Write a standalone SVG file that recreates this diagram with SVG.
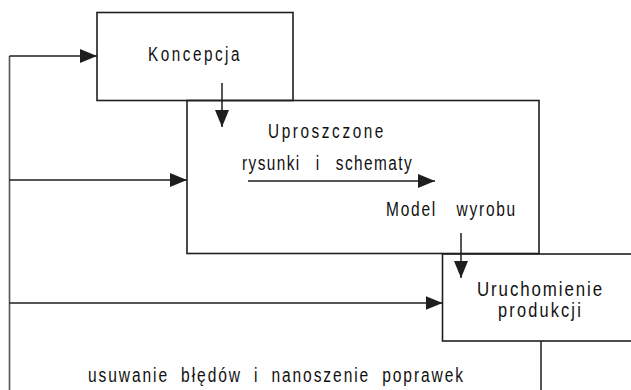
<svg xmlns="http://www.w3.org/2000/svg" width="631" height="390" viewBox="0 0 631 390">
  <style>
    .box { fill: none; stroke: #1e1e1e; stroke-width: 1.6; }
    .ln { fill: none; stroke: #1e1e1e; stroke-width: 1.5; }
    .gl { fill: none; stroke: #555; stroke-width: 1.6; }
    text { font-family: "Liberation Sans", Arial, sans-serif; font-size: 19.5px; fill: #111; }
  </style>
  <defs>
    <marker id="ah" markerUnits="userSpaceOnUse" markerWidth="18" markerHeight="16" refX="17" refY="7" orient="auto" viewBox="0 0 18 14">
      <path d="M0,0 L17,7 L0,14 z" fill="#1e1e1e"/>
    </marker>
  </defs>
  <rect width="631" height="390" fill="#fff"/>

  <g id="koncepcja">
    <rect class="box" x="97" y="12.5" width="196" height="88"/>
    <text x="148" y="60.5" textLength="94" lengthAdjust="spacingAndGlyphs" style="letter-spacing:3.2px">Koncepcja</text>
  </g>

  <g id="uproszczone">
    <rect class="box" x="187" y="100.5" width="352" height="153"/>
    <text x="268" y="137.5" textLength="118" lengthAdjust="spacingAndGlyphs" style="letter-spacing:3.3px">Uproszczone</text>
    <text x="242" y="170" textLength="171" lengthAdjust="spacingAndGlyphs" style="letter-spacing:1.8px;word-spacing:12px">rysunki i schematy</text>
    <text x="386" y="216" textLength="131" lengthAdjust="spacingAndGlyphs" style="letter-spacing:2.2px;word-spacing:17px">Model wyrobu</text>
  </g>

  <g id="uruchomienie">
    <rect class="box" x="442.5" y="254" width="192" height="87"/>
    <text x="477" y="296" textLength="127" lengthAdjust="spacingAndGlyphs" style="letter-spacing:2.2px">Uruchomienie</text>
    <text x="498" y="317" textLength="85" lengthAdjust="spacingAndGlyphs" style="letter-spacing:2.6px">produkcji</text>
  </g>

  <g id="feedback-label">
    <text x="88" y="381.5" textLength="377" lengthAdjust="spacingAndGlyphs" style="letter-spacing:2.4px;word-spacing:7.3px">usuwanie błędów i nanoszenie poprawek</text>
  </g>

  <g id="connectors">
    <path class="gl" d="M9.5,390 V56"/>
    <path class="ln" d="M9.5,56 H97" marker-end="url(#ah)"/>
    <path class="ln" d="M9.5,180 H187" marker-end="url(#ah)"/>
    <path class="ln" d="M9.5,303 H442.5" marker-end="url(#ah)"/>
    <path class="ln" d="M222,83 V127" marker-end="url(#ah)"/>
    <path class="ln" d="M248,181 H435" marker-end="url(#ah)"/>
    <path class="ln" d="M461,233 V278" marker-end="url(#ah)"/>
    <path class="ln" d="M541,341 V390"/>
  </g>
</svg>
